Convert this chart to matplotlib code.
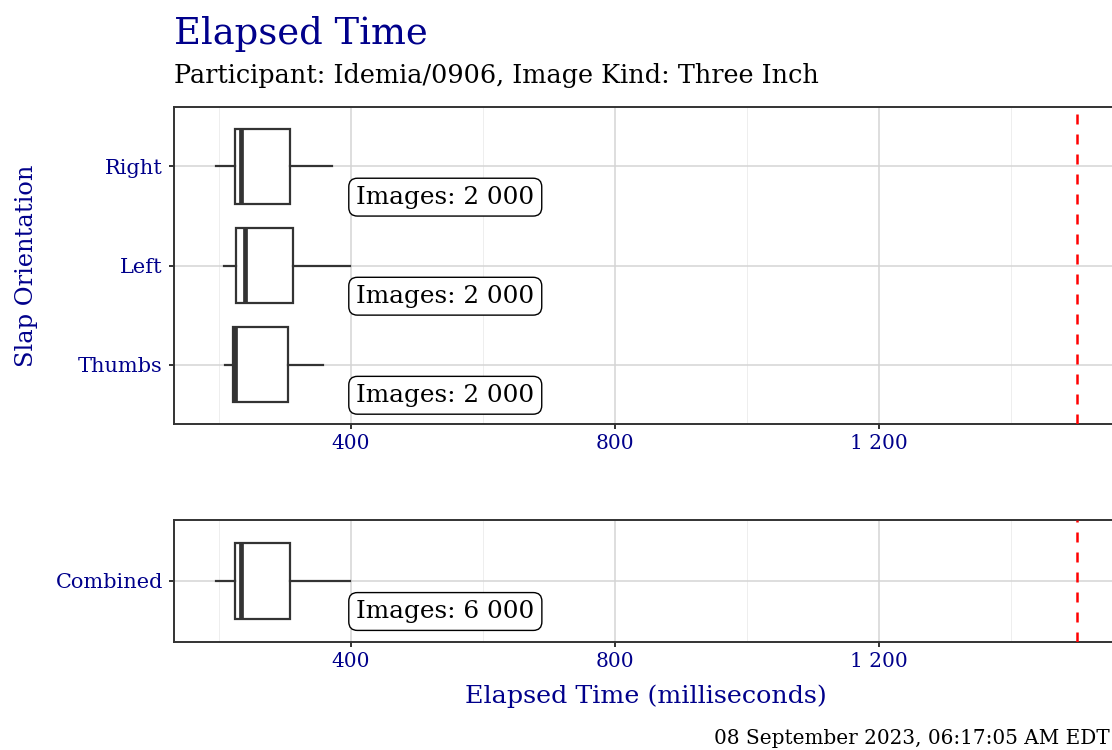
import matplotlib
matplotlib.use("Agg")
import matplotlib.pyplot as plt
from matplotlib.ticker import FuncFormatter, FixedLocator

plt.rcParams['font.family'] = ['DejaVu Serif']

# ---- data ----
categories = ["Thumbs", "Left", "Right"]          # bottom -> top
whisker_low = [209, 207, 196]
q1 = [221, 226, 224]
medians = [225, 239, 233]
q3 = [304, 313, 308]
whisker_high = [358, 398, 371]
image_counts = [2000, 2000, 2000]

combined_label = "Combined"
combined_stats = [196, 224, 233, 308, 398]         # low, q1, med, q3, high
combined_count = 6000

threshold = 1500
x_limits = (132, 1565)
major_ticks = [400, 800, 1200]
minor_ticks = [200, 600, 1000, 1400]

title = "Elapsed Time"
subtitle = "Participant: Idemia/0906, Image Kind: Three Inch"
ylabel = "Slap Orientation"
xlabel = "Elapsed Time (milliseconds)"
caption = "08 September 2023, 06:17:05 AM EDT"

NAVY = "#00008B"
DARK = "#333333"

W, H = 1112, 750
fig = plt.figure(figsize=(W / 100, H / 100), dpi=100)


def fx(px):
    return px / W


def fy(py):
    return 1 - py / H


ax1 = fig.add_axes([fx(174), fy(424), fx(1120 - 174), (424 - 107) / H])
ax2 = fig.add_axes([fx(174), fy(642), fx(1120 - 174), (642 - 520) / H])


def fmt(v, pos=None):
    return f"{int(v):,}".replace(",", " ")


def style(ax, ylim, labels):
    ax.set_xlim(*x_limits)
    ax.set_ylim(*ylim)
    ax.xaxis.set_major_locator(FixedLocator(major_ticks))
    ax.xaxis.set_minor_locator(FixedLocator(minor_ticks))
    ax.xaxis.set_major_formatter(FuncFormatter(fmt))
    ax.set_yticks(range(1, len(labels) + 1))
    ax.set_yticklabels(labels)
    ax.grid(True, which="major", color="#d4d4d4", lw=1.1, zorder=0)
    ax.grid(True, which="minor", axis="x", color="#ebebeb", lw=0.6, zorder=0)
    ax.set_axisbelow(True)
    for s in ax.spines.values():
        s.set_color(DARK)
        s.set_linewidth(1.4)
    ax.tick_params(axis="both", which="major", colors=DARK, length=3.5, width=1.4,
                   labelcolor=NAVY, pad=3)
    ax.tick_params(axis="x", labelsize=14.5, pad=4)
    ax.tick_params(axis="y", labelsize=15, pad=4.5)
    ax.tick_params(axis="x", which="minor", length=0)


def draw_boxes(ax, stats_rows, positions):
    stats = []
    for (lo, a, m, b, hi), p in zip(stats_rows, positions):
        stats.append(dict(whislo=lo, q1=a, med=m, q3=b, whishi=hi, fliers=[]))
    ax.bxp(stats, positions=positions, vert=False, widths=0.75, showcaps=False,
           patch_artist=True,
           boxprops=dict(facecolor="white", edgecolor=DARK, lw=1.6),
           medianprops=dict(color=DARK, lw=3.4, solid_capstyle="butt"),
           whiskerprops=dict(color=DARK, lw=1.6), zorder=3)


rows = list(zip(whisker_low, q1, medians, q3, whisker_high))
draw_boxes(ax1, rows, [1, 2, 3])
draw_boxes(ax2, [tuple(combined_stats)], [1])

style(ax1, (0.4, 3.6), categories)
style(ax2, (0.4, 1.6), [combined_label])

for ax in (ax1, ax2):
    ax.axvline(threshold, color="red", lw=1.8, linestyle=(0, (4, 4)), zorder=4)

bbox = dict(boxstyle="round,pad=0.3,rounding_size=0.35", fc="white", ec="black", lw=1.0)
for i, n in enumerate(image_counts):
    ax1.text(408, i + 1 - 0.31, f"Images: {fmt(n)}", ha="left", va="center",
             fontsize=17.8, color="black", bbox=bbox, zorder=5)
ax2.text(408, 1 - 0.30, f"Images: {fmt(combined_count)}", ha="left", va="center",
         fontsize=17.8, color="black", bbox=bbox, zorder=5)

fig.text(fx(174), fy(44), title, fontsize=26.6, color=NAVY, ha="left", va="baseline")
fig.text(fx(174), fy(83), subtitle, fontsize=18.4, color="black", ha="left", va="baseline")
fig.text(fx(27), fy(266), ylabel, fontsize=17.4, color=NAVY, rotation=90,
         ha="center", va="center")
fig.text(fx(646), fy(703), xlabel, fontsize=18.3, color=NAVY, ha="center", va="baseline")
fig.text(fx(1110), fy(744), caption, fontsize=14.4, color="black", ha="right", va="baseline")

fig.savefig("out.png", dpi=100)
